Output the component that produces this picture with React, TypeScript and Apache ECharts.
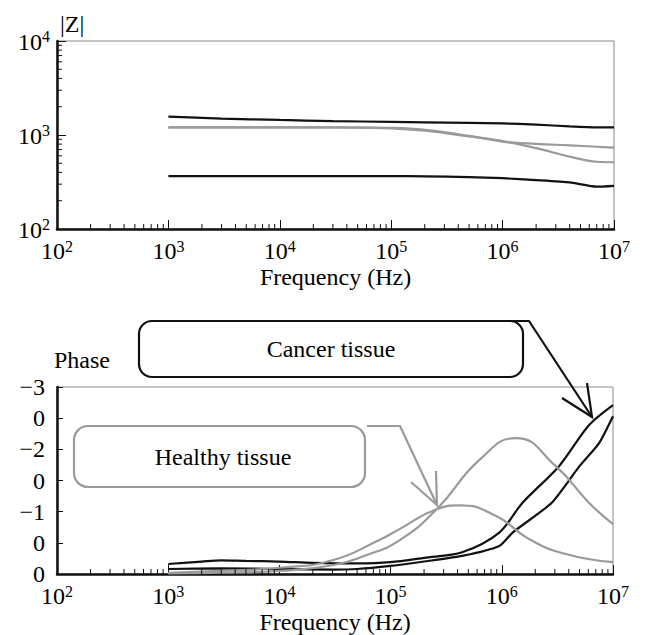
import React, { useEffect, useRef } from "react";
import * as echarts from "echarts";

// ---- data ----
const FREQ_MAG = [1e3, 3e3, 1e4, 3e4, 1e5, 2e5, 5e5, 1e6, 2e6, 4e6, 7e6, 1e7];
const Z_CANCER_HIGH = [1567, 1496, 1445, 1406, 1380, 1365, 1349, 1330, 1288, 1236, 1208, 1208];
const Z_HEALTHY_A = [1208, 1208, 1208, 1208, 1189, 1135, 977, 851, 804, 776, 750, 733];
const Z_HEALTHY_B = [1208, 1208, 1208, 1208, 1175, 1109, 966, 861, 724, 589, 519, 513];
const Z_CANCER_LOW = [366, 366, 366, 366, 366, 363, 357, 347, 331, 313, 282, 288];

const FREQ_PH_C1 = [1e3, 2e3, 3e3, 5e3, 1e4, 2e4, 5e4, 1e5, 2e5, 4.4e5, 9.5e5, 1.53e6, 3.27e6, 6.1e6, 1e7];
const PH_C1 = [-0.16, -0.2, -0.22, -0.21, -0.2, -0.18, -0.17, -0.19, -0.26, -0.35, -0.665, -1.14, -1.73, -2.39, -2.71];
const FREQ_PH_C2 = [1e3, 3e3, 1e4, 3e4, 5e4, 1e5, 2e5, 4.4e5, 9.5e5, 1.25e6, 2.8e6, 5e6, 7.5e6, 1e7];
const PH_C2 = [-0.08, -0.09, -0.08, -0.07, -0.08, -0.13, -0.2, -0.29, -0.45, -0.665, -1.14, -1.73, -2.1, -2.53];
const FREQ_PH_H1 = [1e3, 3e3, 1e4, 3e4, 6e4, 1.2e5, 2.6e5, 6.3e5, 1.34e6, 3.06e6, 6.1e6, 1e7];
const PH_H1 = [-0.01, -0.02, -0.05, -0.14, -0.3, -0.54, -1.04, -1.83, -2.18, -1.73, -1.14, -0.8];
const FREQ_PH_H2 = [1e3, 3e3, 1e4, 3e4, 8e4, 1.2e5, 2.6e5, 4.2e5, 8.9e5, 1.76e6, 3.76e6, 1e7];
const PH_H2 = [-0.02, -0.05, -0.1, -0.22, -0.55, -0.72, -1.04, -1.1, -0.93, -0.56, -0.32, -0.19];

const PHASE_TICK_LABELS = ["−3", "0", "−2", "0", "−1", "0", "0"];
const X_DECADES = [2, 3, 4, 5, 6];
const Y_DECADES = [2, 3];
const MULTS = [2, 3, 4, 5, 6, 7, 8, 9];

const FONT = "Liberation Serif";
const FS = 24;
const BLACK = "#111";
const GRAY = "#9a9a9a";

const zip = (xs: number[], ys: number[]) => xs.map((x, i) => [x, ys[i]]);

export default function App() {
  const ref = useRef<HTMLDivElement>(null);
  useEffect(() => {
    if (!ref.current) return;
    const chart = echarts.init(ref.current, null, { renderer: "svg" });

    const minorX: number[][] = [];
    X_DECADES.forEach((d) => MULTS.forEach((m) => minorX.push([m * Math.pow(10, d), 0])));
    const minorY: number[][] = [];
    Y_DECADES.forEach((d) => MULTS.forEach((m) => minorY.push([100, m * Math.pow(10, d)])));

    const supLabel = {
      fontFamily: FONT,
      color: "#000",
      formatter: (v: number) => `{b|10}{s|${Math.round(Math.log10(v))}}`,
      rich: {
        b: { fontSize: FS, fontFamily: FONT, color: "#000", verticalAlign: "bottom", lineHeight: 25 },
        s: { fontSize: 16, fontFamily: FONT, color: "#000", verticalAlign: "top", lineHeight: 15 },
      },
    };

    const xAxisCommon = (gi: number) => ({
      type: "log",
      gridIndex: gi,
      min: 100,
      max: 1e7,
      logBase: 10,
      axisLine: { show: true, onZero: false, lineStyle: { color: BLACK, width: 2.5 } },
      axisTick: { show: true, inside: true, length: 9, lineStyle: { color: BLACK, width: 1 } },
      splitLine: { show: false },
      axisLabel: { ...supLabel, margin: 9 },
      name: "Frequency (Hz)",
      nameLocation: "middle",
      nameGap: 36,
      nameTextStyle: { fontFamily: FONT, fontSize: FS, color: "#000" },
    });

    const tickRender = (dir: "x" | "y") => (params: any, api: any) => {
      const p = api.coord([api.value(0), api.value(1)]);
      return {
        type: "line",
        shape: dir === "x"
          ? { x1: p[0], y1: p[1], x2: p[0], y2: p[1] - 5 }
          : { x1: p[0], y1: p[1], x2: p[0] + 5, y2: p[1] },
        style: { stroke: BLACK, lineWidth: 1 },
      };
    };

    const lineSeries = (name: string, data: number[][], color: string, gi: number, smooth: number) => ({
      name,
      type: "line",
      xAxisIndex: gi,
      yAxisIndex: gi,
      data,
      showSymbol: false,
      symbol: "none",
      smooth,
      lineStyle: { color, width: 2.2 },
      z: 3,
    });

    const option: any = {
      animation: false,
      textStyle: { fontFamily: FONT },
      grid: [
        { left: 57, top: 41, width: 557, height: 188, show: true, borderColor: "#888", borderWidth: 1 },
        { left: 57, top: 387, width: 556, height: 188, show: true, borderColor: "#888", borderWidth: 1 },
      ],
      xAxis: [xAxisCommon(0), xAxisCommon(1)],
      yAxis: [
        {
          type: "log",
          gridIndex: 0,
          min: 100,
          max: 10000,
          logBase: 10,
          axisLine: { show: true, onZero: false, lineStyle: { color: BLACK, width: 2.5 } },
          axisTick: { show: true, inside: true, length: 9, lineStyle: { color: BLACK, width: 1 } },
          splitLine: { show: false },
          axisLabel: { ...supLabel, margin: 7 },
        },
        {
          type: "value",
          gridIndex: 1,
          min: -3,
          max: 0,
          interval: 0.5,
          inverse: true,
          axisLine: { show: true, onZero: false, lineStyle: { color: BLACK, width: 2.5 } },
          axisTick: { show: true, inside: true, length: 6, lineStyle: { color: BLACK, width: 1 } },
          splitLine: { show: false },
          axisLabel: {
            fontFamily: FONT,
            fontSize: FS,
            color: "#000",
            margin: 12,
            formatter: (v: number) => PHASE_TICK_LABELS[Math.round((v + 3) / 0.5)] ?? "",
          },
        },
      ],
      series: [
        lineSeries("Cancer high", zip(FREQ_MAG, Z_CANCER_HIGH), BLACK, 0, 0.2),
        lineSeries("Healthy A", zip(FREQ_MAG, Z_HEALTHY_A), GRAY, 0, 0.4),
        lineSeries("Healthy B", zip(FREQ_MAG, Z_HEALTHY_B), GRAY, 0, 0.4),
        lineSeries("Cancer low", zip(FREQ_MAG, Z_CANCER_LOW), BLACK, 0, 0.2),
        lineSeries("Cancer 1", zip(FREQ_PH_C1, PH_C1), BLACK, 1, 0.3),
        lineSeries("Cancer 2", zip(FREQ_PH_C2, PH_C2), BLACK, 1, 0.2),
        lineSeries("Healthy 1", zip(FREQ_PH_H1, PH_H1), GRAY, 1, 0.5),
        lineSeries("Healthy 2", zip(FREQ_PH_H2, PH_H2), GRAY, 1, 0.5),
        {
          type: "custom", xAxisIndex: 0, yAxisIndex: 0, silent: true, z: 5,
          data: minorX.map((d) => [d[0], 100]), renderItem: tickRender("x"),
        },
        {
          type: "custom", xAxisIndex: 0, yAxisIndex: 0, silent: true, z: 5,
          data: minorY, renderItem: tickRender("y"),
        },
        {
          type: "custom", xAxisIndex: 1, yAxisIndex: 1, silent: true, z: 5,
          data: minorX.map((d) => [d[0], 0]), renderItem: tickRender("x"),
        },
      ],
      graphic: [
        { type: "text", left: 60, top: 12, style: { text: "|Z|", fontFamily: FONT, fontSize: FS, fill: "#000" } },
        { type: "text", left: 54, top: 348, style: { text: "Phase", fontFamily: FONT, fontSize: FS, fill: "#000" } },
        {
          type: "rect", shape: { x: 139, y: 321, width: 384, height: 56, r: 13 },
          style: { fill: "#fff", stroke: BLACK, lineWidth: 2.2 }, z: 10,
        },
        {
          type: "text", x: 331, y: 349,
          style: { text: "Cancer tissue", fontFamily: FONT, fontSize: FS, fill: "#000", align: "center", verticalAlign: "middle" }, z: 11,
        },
        { type: "polyline", shape: { points: [[470, 321], [529, 321], [592, 417]] }, style: { stroke: BLACK, lineWidth: 2.2, fill: "none" }, z: 11 },
        { type: "polyline", shape: { points: [[562, 398], [592, 417], [587, 383]] }, style: { stroke: BLACK, lineWidth: 2.2, fill: "none" }, z: 11 },
        {
          type: "rect", shape: { x: 74, y: 426, width: 291, height: 61, r: 14 },
          style: { fill: "#fff", stroke: GRAY, lineWidth: 2.2 }, z: 10,
        },
        {
          type: "text", x: 223, y: 457,
          style: { text: "Healthy tissue", fontFamily: FONT, fontSize: FS, fill: "#000", align: "center", verticalAlign: "middle" }, z: 11,
        },
        { type: "polyline", shape: { points: [[367, 426], [400, 426], [437, 505]] }, style: { stroke: GRAY, lineWidth: 2.2, fill: "none" }, z: 11 },
        { type: "polyline", shape: { points: [[411, 482], [437, 505], [436, 471]] }, style: { stroke: GRAY, lineWidth: 2.2, fill: "none" }, z: 11 },
      ],
    };
    chart.setOption(option);
    return () => chart.dispose();
  }, []);
  return <div ref={ref} style={{ position: "absolute", left: 0, top: 0, width: 647, height: 635 }} />;
}
